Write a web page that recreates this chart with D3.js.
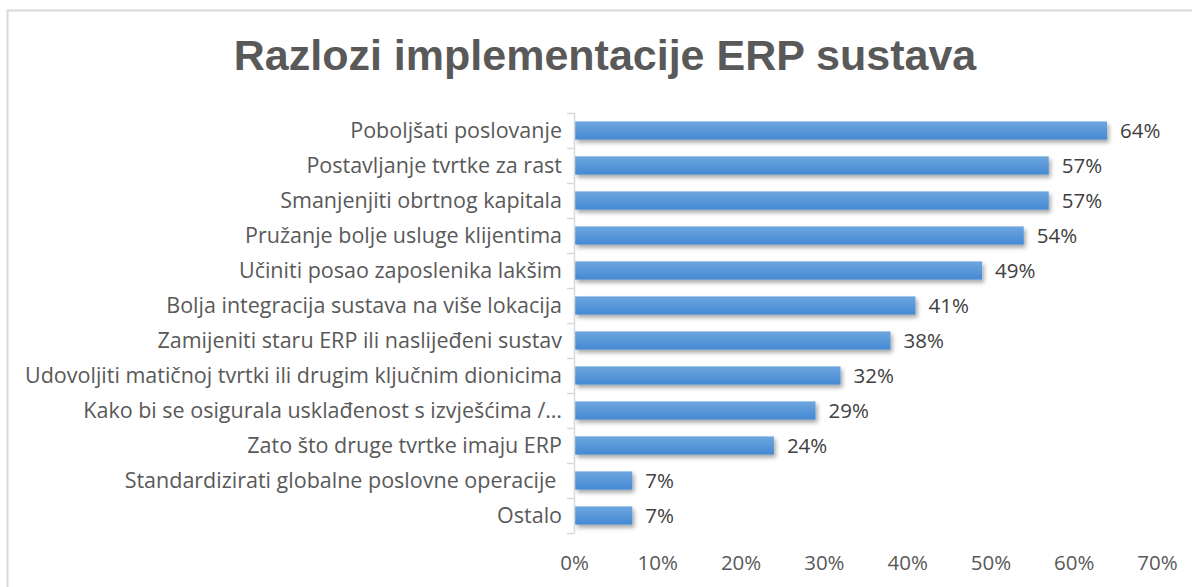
<!DOCTYPE html>
<html><head><meta charset="utf-8">
<script src="https://cdn.jsdelivr.net/npm/d3@7"></script>
<style>
body{margin:0;background:#fff;}
svg{display:block;}
text{white-space:pre;}
</style></head>
<body>
<svg id="c" width="1192" height="587"></svg>
<script>
const title = "Razlozi implementacije ERP sustava";
const categories = [
  "Poboljšati poslovanje",
  "Postavljanje tvrtke za rast",
  "Smanjenjiti obrtnog kapitala",
  "Pružanje bolje usluge klijentima",
  "Učiniti posao zaposlenika lakšim",
  "Bolja integracija sustava na više lokacija",
  "Zamijeniti staru ERP ili naslijeđeni sustav",
  "Udovoljiti matičnoj tvrtki ili drugim ključnim dionicima",
  "Kako bi se osigurala usklađenost s izvješćima /…",
  "Zato što druge tvrtke imaju ERP",
  "Standardizirati globalne poslovne operacije ",
  "Ostalo"
];
const values = [0.64, 0.57, 0.57, 0.54, 0.49, 0.41, 0.38, 0.32, 0.29, 0.24, 0.07, 0.07];
const ticks = [0, 0.1, 0.2, 0.3, 0.4, 0.5, 0.6, 0.7];

const svg = d3.select("#c");
const defs = svg.append("defs");
const g1 = defs.append("linearGradient").attr("id","bg").attr("x1",0).attr("y1",0).attr("x2",0).attr("y2",1);
g1.append("stop").attr("offset","0%").attr("stop-color","#6ea6de");
g1.append("stop").attr("offset","100%").attr("stop-color","#4489d3");
const f = defs.append("filter").attr("id","sh").attr("x","-5%").attr("y","-30%").attr("width","115%").attr("height","190%");
f.append("feDropShadow").attr("dx",2).attr("dy",3).attr("stdDeviation",2).attr("flood-color","#000").attr("flood-opacity",0.35);

// frame
svg.append("rect").attr("x",7.5).attr("y",10.5).attr("width",1200).attr("height",600)
  .attr("fill","none").attr("stroke","#d9d9d9").attr("stroke-width",2);

svg.append("text").attr("x",605).attr("y",70).attr("text-anchor","middle")
  .attr("font-family","Liberation Sans, Arial, sans-serif").attr("font-weight","bold")
  .attr("font-size",43).attr("fill","#595959").text(title);

const x = d3.scaleLinear().domain([0,0.7]).range([574,1157]);
const y = d3.scaleBand().domain(categories).range([113,533]).paddingInner(0.48).paddingOuter(0.24);

// bars
svg.append("g").selectAll("rect").data(categories).join("rect")
  .attr("x", x(0)+1).attr("y", d=>y(d)).attr("height", y.bandwidth())
  .attr("width", (d,i)=>x(values[i])-x(0)-1)
  .attr("fill","url(#bg)").attr("filter","url(#sh)");

// y axis
const yAxisBand = d3.scaleBand().domain(categories).range([113,533]);
svg.append("line").attr("x1",574.5).attr("x2",574.5).attr("y1",113).attr("y2",533).attr("stroke","#d9d9d9").attr("stroke-width",1.5);
svg.append("g").selectAll("line").data(categories.map((d,i)=>i===0? [yAxisBand(d), yAxisBand(d)+yAxisBand.bandwidth()] : [yAxisBand(d)+yAxisBand.bandwidth()]).flat()).join("line")
  .attr("x1",567).attr("x2",574.5).attr("y1",d=>Math.round(d)+0.5).attr("y2",d=>Math.round(d)+0.5)
  .attr("stroke","#d9d9d9").attr("stroke-width",1.5);

const labelFont = "Open Sans, sans-serif";
svg.append("g").selectAll("text").data(categories).join("text")
  .attr("x",562).attr("y",d=>yAxisBand(d)+yAxisBand.bandwidth()/2).attr("dy","0.35em")
  .attr("text-anchor","end").attr("font-family",labelFont).attr("font-size",21.5).attr("fill","#595959")
  .text(d=>d);

// value labels
svg.append("g").selectAll("text").data(categories).join("text")
  .attr("x",(d,i)=>x(values[i])+13).attr("y",d=>yAxisBand(d)+yAxisBand.bandwidth()/2).attr("dy","0.35em")
  .attr("font-family",labelFont).attr("font-size",20.5).attr("fill","#404040")
  .text((d,i)=>d3.format(".0%")(values[i]));

// x axis labels
const xAxis = d3.axisBottom(x).tickValues(ticks).tickFormat(d3.format(".0%")).tickSize(0);
const ax = svg.append("g").attr("transform","translate(0,563)").call(xAxis);
ax.select(".domain").remove();
ax.selectAll("text").attr("font-family",labelFont).attr("font-size",20.5).attr("fill","#595959").attr("dy","0.35em").attr("y",0);
</script>
</body></html>
